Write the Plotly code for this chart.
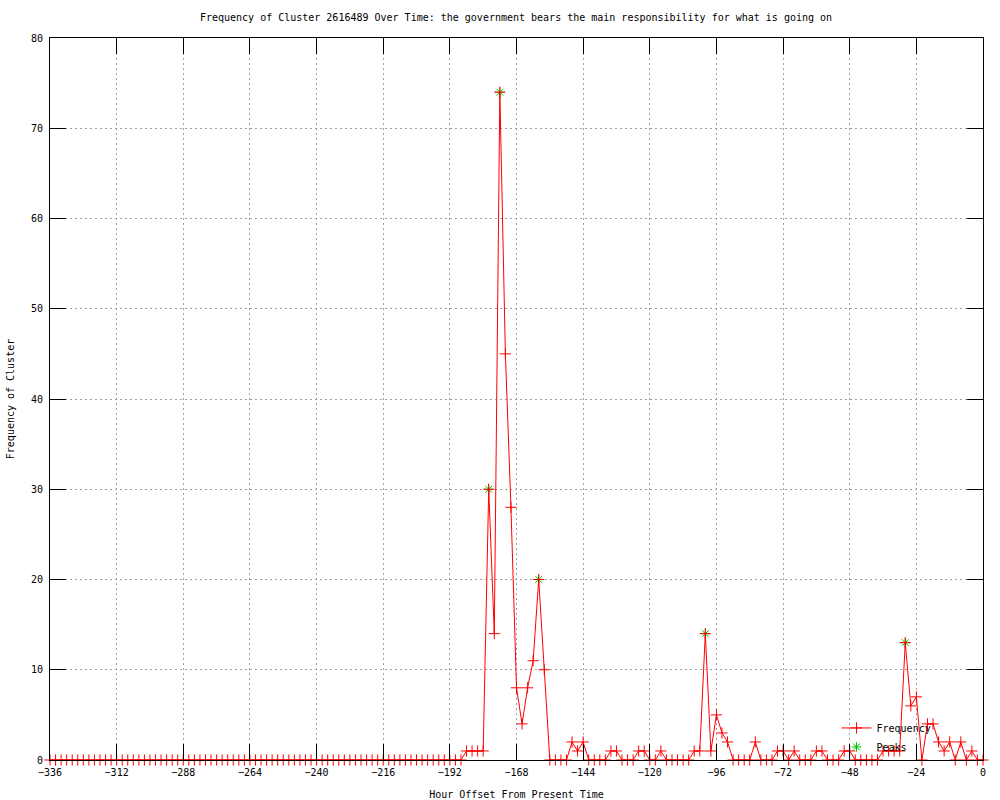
import plotly.graph_objects as go

# Hour offsets (every 2 hours from -336 to 0)
hours = list(range(-336, 1, 2))

# Frequency of cluster at each hour offset
frequency = (
    [0] * 75 +                                   # -336 .. -188
    [1, 1, 1, 1, 30, 14, 74, 45, 28, 8, 4, 8, 11, 20, 10] +   # -186 .. -158
    [0, 0, 0, 0, 2, 1, 2, 0, 0, 0, 0, 1, 1] +    # -156 .. -132
    [0, 0, 0, 1, 1, 0, 0, 1, 0, 0, 0, 0, 0] +    # -130 .. -106
    [1, 1, 14, 1, 5, 3, 2, 0, 0, 0, 0, 2] +      # -104 .. -82
    [0, 0, 0, 1, 1, 0, 1, 0, 0, 0, 1, 1] +       # -80 .. -58
    [0, 0, 0, 1, 1, 0, 0, 0, 0, 0, 1, 1, 1, 1] + # -56 .. -30
    [13, 6, 7, 0, 4, 4, 2, 1, 2, 0, 2, 0, 1, 0, 0]  # -28 .. 0
)

peak_hours = [-178, -174, -160, -100, -28]
peak_values = [30, 74, 20, 14, 13]

x_ticks = list(range(-336, 1, 24))
y_ticks = list(range(0, 81, 10))

title_text = ("Frequency of Cluster 2616489 Over Time: the government bears "
              "the main responsibility for what is going on")

FONT = "DejaVu Sans Mono"
FS = 10

fig = go.Figure()

fig.add_trace(go.Scatter(
    x=peak_hours, y=peak_values, mode="markers", name="Peaks",
    cliponaxis=False,
    marker=dict(symbol="asterisk-open", size=8, color="#00c000",
                line=dict(width=1, color="#00c000")),
))

fig.add_trace(go.Scatter(
    x=hours, y=frequency, mode="lines+markers", name="Frequency",
    cliponaxis=False,
    line=dict(color="#ff0000", width=1),
    marker=dict(symbol="cross-thin-open", size=8, color="#ff0000",
                line=dict(width=1, color="#ff0000")),
))

axis_common = dict(
    showline=True, linecolor="black", linewidth=1, mirror="allticks",
    ticks="inside", ticklen=16, tickcolor="black", tickwidth=1,
    showgrid=True, gridcolor="#a0a0a0", griddash="2px,3px", gridwidth=1,
    zeroline=False, automargin=False,
    tickfont=dict(family=FONT, size=FS, color="black"),
)

fig.update_xaxes(
    range=[-336, 0], tickvals=x_ticks,
    ticktext=[str(v).replace("-", "\u2212") for v in x_ticks],
    ticklabelstandoff=3,
    title=dict(text="Hour Offset From Present Time",
               font=dict(family=FONT, size=FS, color="black"), standoff=14),
    **axis_common,
)
fig.update_yaxes(
    range=[0, 80], tickvals=y_ticks,
    ticklabelstandoff=4,
    title=dict(text="Frequency of Cluster",
               font=dict(family=FONT, size=FS, color="black"), standoff=14),
    **axis_common,
)

fig.update_layout(
    width=1000, height=800,
    margin=dict(l=50, r=17, t=38, b=40),
    plot_bgcolor="white", paper_bgcolor="white",
    title=dict(text=title_text, x=0.516, xanchor="center", y=0.978, yanchor="middle",
               font=dict(family=FONT, size=FS, color="black")),
    font=dict(family=FONT, size=FS, color="black"),
    legend=dict(x=0.843, xanchor="left", y=-0.002, yanchor="bottom",
                bgcolor="rgba(0,0,0,0)", traceorder="reversed",
                font=dict(family=FONT, size=FS, color="black"),
                itemwidth=30, tracegroupgap=0),
    showlegend=True,
)

fig.write_html("out.html",
               config={"displayModeBar": False},
               post_script="document.body.style.margin='0';document.body.style.padding='0';")
